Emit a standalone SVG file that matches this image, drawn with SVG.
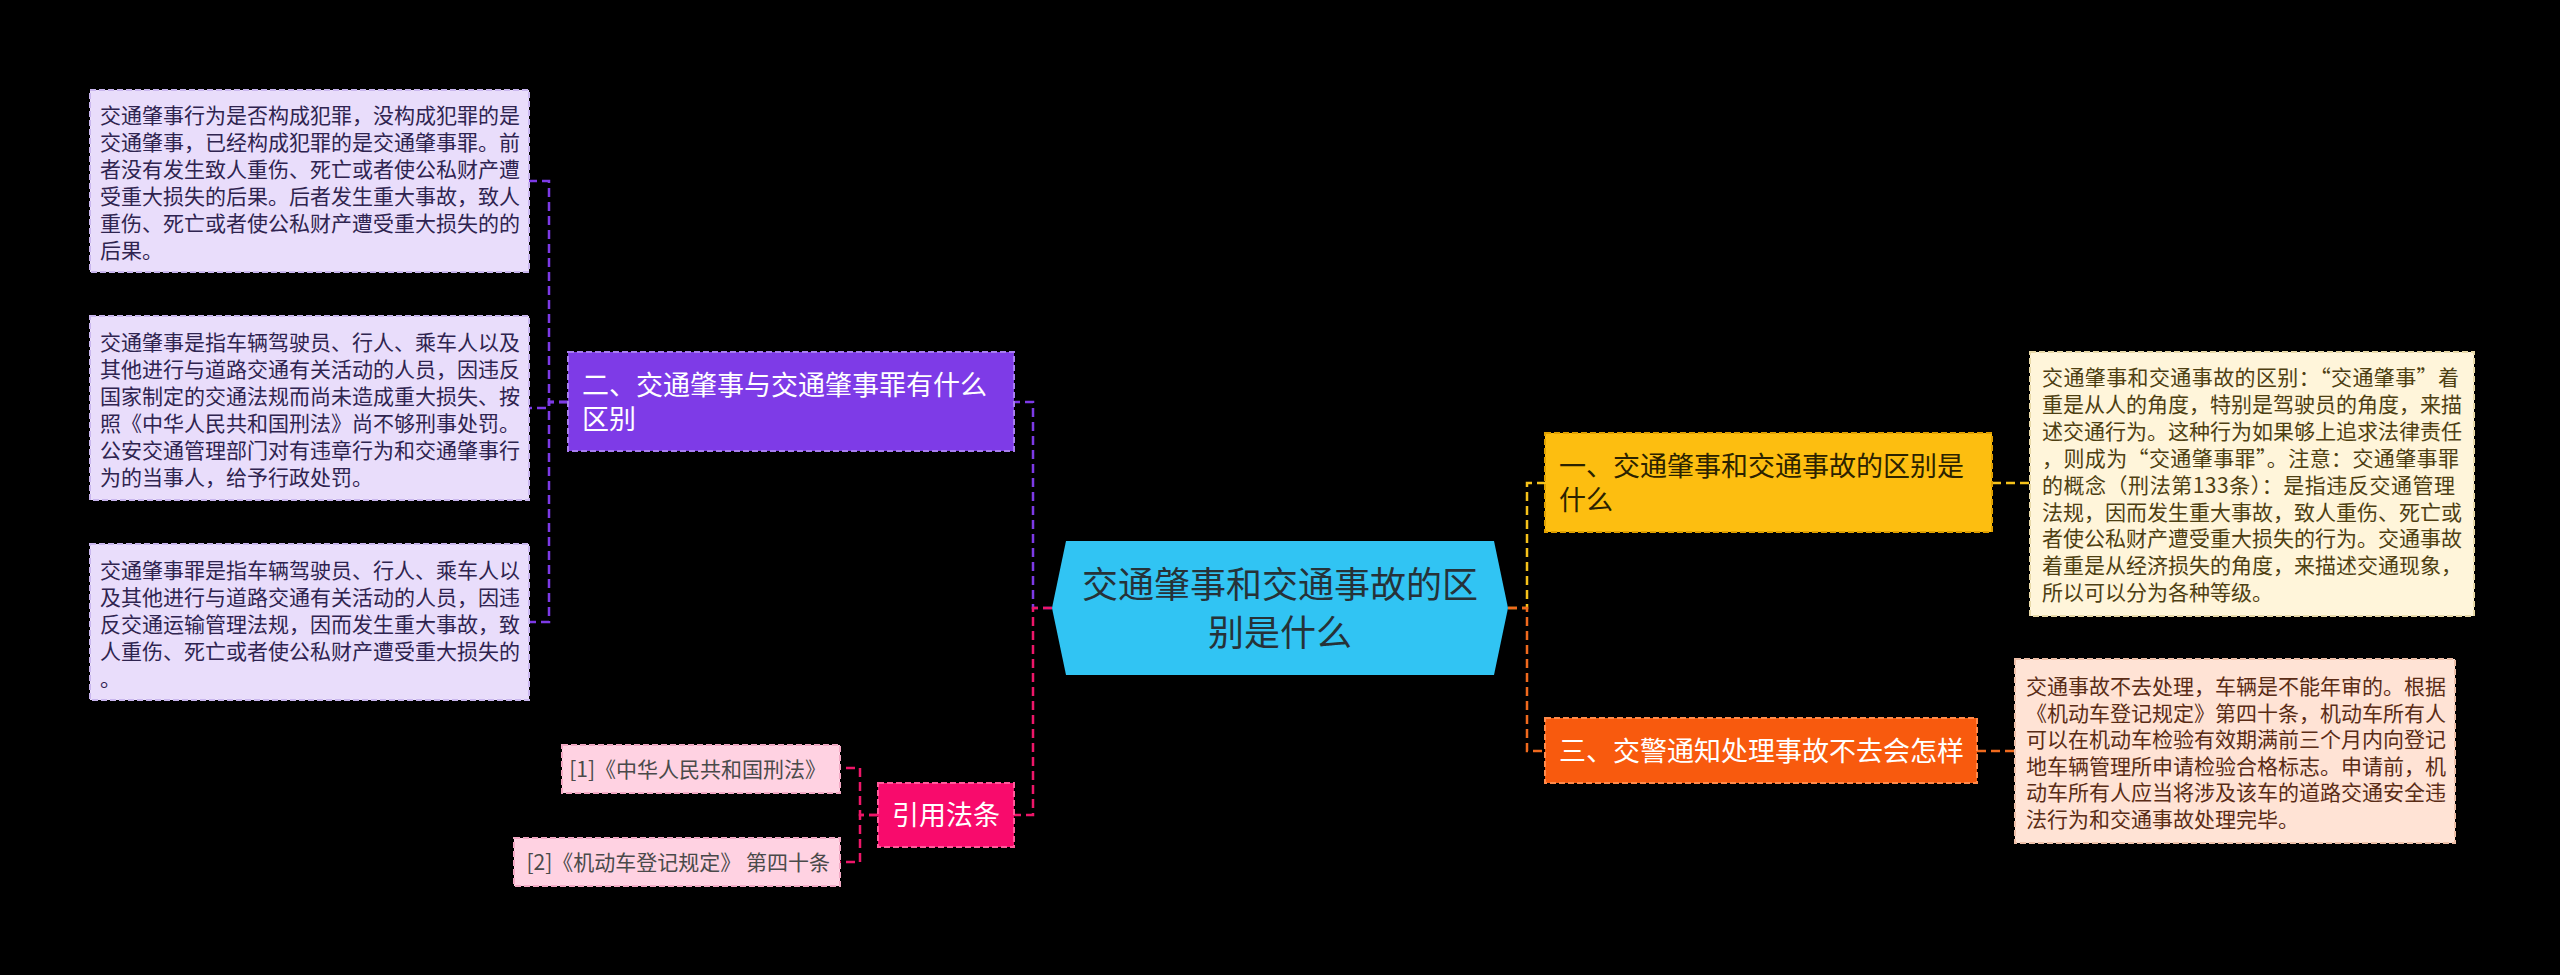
<svg xmlns="http://www.w3.org/2000/svg" width="2560" height="975" viewBox="0 0 2560 975">
<style>
text { font-family: "Noto Sans CJK SC", "Noto Sans", sans-serif; }
.leaf { font-size: 21px; }
.lp { fill: #E9DDFB; stroke: #C9B6EE; stroke-width: 2; stroke-dasharray: 6 3; }
.lpt { fill: #2F2450; }
.cr { fill: #4E3F12; }
.main { font-size: 27px; }
.conn path { fill: none; stroke-width: 2.5; stroke-dasharray: 9 5; }
.cp { stroke: #7D3AE6; }
.ck { stroke: #EE1669; }
.cy { stroke: #F6C21A; }
.co { stroke: #F06A1E; }
</style>
<rect x="0" y="0" width="2560" height="975" fill="#000000"/>

<g id="connectors" class="conn">
  <path class="cp" d="M1052,608 H1033 V402 H1014"/>
  <path class="ck" d="M1052,608 H1033 V815 H1014"/>
  <path class="cp" d="M568,402 H549 V181 H529"/>
  <path class="cp" d="M568,402 H549 V408 H529"/>
  <path class="cp" d="M568,402 H549 V622 H529"/>
  <path class="ck" d="M878,815 H860 V768 H840"/>
  <path class="ck" d="M878,815 H860 V862 H840"/>
  <path class="cy" d="M1508,608 H1527 V483 H1545"/>
  <path class="co" d="M1508,608 H1527 V751 H1545"/>
  <path class="cy" d="M1992,483 H2030"/>
  <path class="co" d="M1977,751 H2015"/>
</g>

<g id="root">
  <polygon points="1066,541 1494,541 1508,608 1494,675 1066,675 1052,608" fill="#31C4F3"/>
  <text x="1280" y="598" font-size="36" fill="#263238" text-anchor="middle">交通肇事和交通事故的区</text>
  <text x="1280" y="646" font-size="36" fill="#263238" text-anchor="middle">别是什么</text>
</g>

<g id="node-b2">
  <rect x="568" y="352" width="446" height="99" fill="#7E3BE7" stroke="#A77DF0" stroke-width="2" stroke-dasharray="6 3"/>
  <text class="main" fill="#FFFFFF"><tspan x="582" y="394.5">二、交通肇事与交通肇事罪有什么</tspan><tspan x="582" y="428.5">区别</tspan></text>
</g>

<g id="leaf-a">
  <rect class="lp" x="90" y="90" width="439" height="182"/>
  <text class="leaf lpt"><tspan x="100" y="123">交通肇事行为是否构成犯罪，没构成犯罪的是</tspan><tspan x="100" dy="27">交通肇事，已经构成犯罪的是交通肇事罪。前</tspan><tspan x="100" dy="27">者没有发生致人重伤、死亡或者使公私财产遭</tspan><tspan x="100" dy="27">受重大损失的后果。后者发生重大事故，致人</tspan><tspan x="100" dy="27">重伤、死亡或者使公私财产遭受重大损失的的</tspan><tspan x="100" dy="27">后果。</tspan></text>
</g>

<g id="leaf-b">
  <rect class="lp" x="90" y="316" width="439" height="184"/>
  <text class="leaf lpt"><tspan x="100" y="350">交通肇事是指车辆驾驶员、行人、乘车人以及</tspan><tspan x="100" dy="27">其他进行与道路交通有关活动的人员，因违反</tspan><tspan x="100" dy="27">国家制定的交通法规而尚未造成重大损失、按</tspan><tspan x="100" dy="27">照《中华人民共和国刑法》尚不够刑事处罚。</tspan><tspan x="100" dy="27">公安交通管理部门对有违章行为和交通肇事行</tspan><tspan x="100" dy="27">为的当事人，给予行政处罚。</tspan></text>
</g>

<g id="leaf-c">
  <rect class="lp" x="90" y="544" width="439" height="156"/>
  <text class="leaf lpt"><tspan x="100" y="578">交通肇事罪是指车辆驾驶员、行人、乘车人以</tspan><tspan x="100" dy="27">及其他进行与道路交通有关活动的人员，因违</tspan><tspan x="100" dy="27">反交通运输管理法规，因而发生重大事故，致</tspan><tspan x="100" dy="27">人重伤、死亡或者使公私财产遭受重大损失的</tspan><tspan x="100" dy="27">。</tspan></text>
</g>

<g id="node-refs">
  <rect x="878" y="783" width="136" height="64" fill="#F80B6C" stroke="#FF5A9A" stroke-width="2" stroke-dasharray="6 3"/>
  <text class="main" x="946" y="825" fill="#FFFFFF" text-anchor="middle">引用法条</text>
</g>

<g id="ref-1">
  <rect x="562" y="745" width="278" height="48" fill="#FFD2E2" stroke="#F2A9C4" stroke-width="2" stroke-dasharray="6 3"/>
  <text class="leaf" x="826" y="776.5" fill="#4A4A4A" text-anchor="end">[1]《中华人民共和国刑法》</text>
</g>

<g id="ref-2">
  <rect x="514" y="838" width="326" height="48" fill="#FFD2E2" stroke="#F2A9C4" stroke-width="2" stroke-dasharray="6 3"/>
  <text class="leaf" x="830" y="869.5" fill="#4A4A4A" text-anchor="end">[2]《机动车登记规定》 第四十条</text>
</g>

<g id="node-b1">
  <rect x="1545" y="433" width="447" height="99" fill="#FDBE10" stroke="#E0A000" stroke-width="2" stroke-dasharray="6 3"/>
  <text class="main" fill="#2B2200"><tspan x="1559" y="475.5">一、交通肇事和交通事故的区别是</tspan><tspan x="1559" y="509.5">什么</tspan></text>
</g>

<g id="leaf-b1">
  <rect x="2030" y="352" width="444" height="264" fill="#FFF5DA" stroke="#E8D9A8" stroke-width="2" stroke-dasharray="6 3"/>
  <text class="leaf cr" x="2042" y="385" textLength="417" lengthAdjust="spacing">交通肇事和交通事故的区别：“交通肇事”着</text>
  <text class="leaf cr" x="2042" y="411.9">重是从人的角度，特别是驾驶员的角度，来描</text>
  <text class="leaf cr" x="2042" y="438.8">述交通行为。这种行为如果够上追求法律责任</text>
  <text class="leaf cr" x="2042" y="465.7" textLength="417" lengthAdjust="spacing">，则成为“交通肇事罪”。注意：交通肇事罪</text>
  <text class="leaf cr" x="2042" y="492.6" textLength="413" lengthAdjust="spacing">的概念（刑法第133条）：是指违反交通管理</text>
  <text class="leaf cr" x="2042" y="519.5">法规，因而发生重大事故，致人重伤、死亡或</text>
  <text class="leaf cr" x="2042" y="546.4">者使公私财产遭受重大损失的行为。交通事故</text>
  <text class="leaf cr" x="2042" y="573.3">着重是从经济损失的角度，来描述交通现象，</text>
  <text class="leaf cr" x="2042" y="600.2">所以可以分为各种等级。</text>
</g>

<g id="node-b3">
  <rect x="1545" y="718" width="432" height="65" fill="#F85A0E" stroke="#FF8A4A" stroke-width="2" stroke-dasharray="6 3"/>
  <text class="main" x="1559" y="760.5" fill="#FFFFFF">三、交警通知处理事故不去会怎样</text>
</g>

<g id="leaf-b3">
  <rect x="2015" y="659" width="440" height="184" fill="#FFE3D5" stroke="#EDBFA8" stroke-width="2" stroke-dasharray="6 3"/>
  <text class="leaf" fill="#5A2C16"><tspan x="2026" y="694">交通事故不去处理，车辆是不能年审的。根据</tspan><tspan x="2026" dy="26.6">《机动车登记规定》第四十条，机动车所有人</tspan><tspan x="2026" dy="26.6">可以在机动车检验有效期满前三个月内向登记</tspan><tspan x="2026" dy="26.6">地车辆管理所申请检验合格标志。申请前，机</tspan><tspan x="2026" dy="26.6">动车所有人应当将涉及该车的道路交通安全违</tspan><tspan x="2026" dy="26.6">法行为和交通事故处理完毕。</tspan></text>
</g>
</svg>
